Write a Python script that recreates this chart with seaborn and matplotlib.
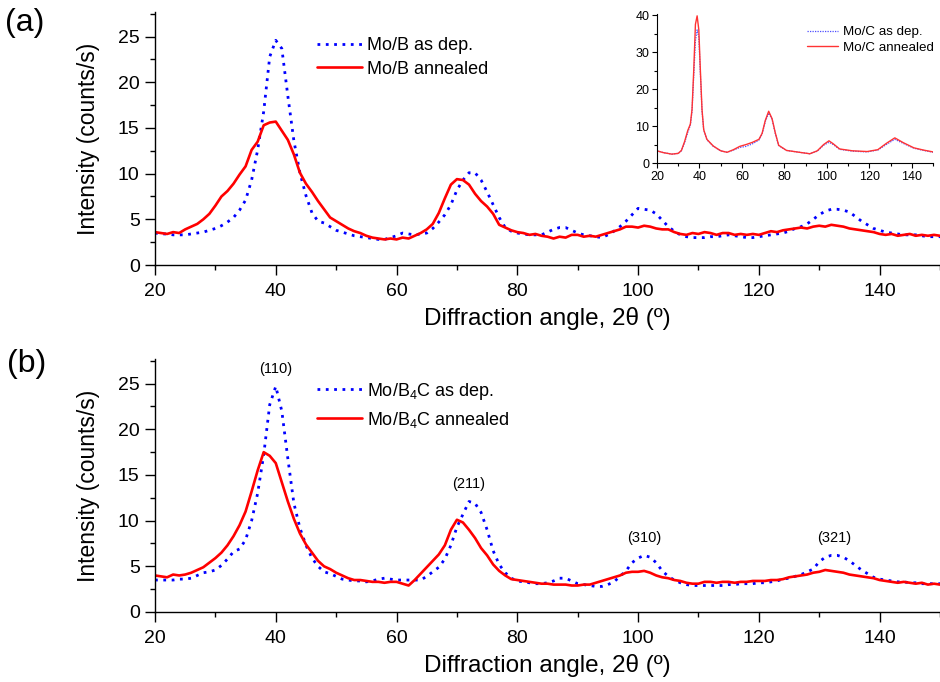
import matplotlib
matplotlib.use("Agg")
import matplotlib.pyplot as plt
from matplotlib.ticker import MultipleLocator
import numpy as np
import pandas as pd
import seaborn as sns

# ---------------------------------------------------------------- data
angle = list(range(20, 151))  # 2-theta, degrees

# (a) Mo/B multilayer
mob_dep = [
    3.5, 3.4, 3.4, 3.3, 3.3, 3.3, 3.4, 3.5, 3.6, 3.8,
    4.0, 4.3, 4.7, 5.2, 6.0, 7.1, 9.3, 12.6, 16.8, 22.8,
    24.6, 23.7, 18.5, 13.6, 10.1, 7.6, 5.7, 4.8, 4.6, 4.2,
    3.8, 3.6, 3.4, 3.2, 3.1, 3.0, 2.9, 2.8, 2.8, 3.0,
    3.2, 3.5, 3.4, 3.3, 3.4, 3.5, 4.0, 4.7, 5.5, 6.6,
    8.2, 9.3, 10.1, 10.1, 9.3, 8.0, 6.6, 5.2, 4.1, 3.7,
    3.5, 3.4, 3.3, 3.3, 3.3, 3.6, 3.9, 4.1, 4.1, 3.8,
    3.5, 3.3, 3.2, 3.1, 3.0, 3.3, 3.7, 4.2, 4.8, 5.5,
    6.2, 6.1, 6.0, 5.6, 4.9, 4.2, 3.7, 3.3, 3.1, 3.0,
    3.0, 3.0, 3.1, 3.1, 3.2, 3.3, 3.2, 3.1, 3.0, 3.0,
    3.1, 3.2, 3.3, 3.4, 3.5, 3.7, 4.0, 4.2, 4.5, 5.0,
    5.5, 5.9, 6.1, 6.1, 6.0, 5.8, 5.3, 4.8, 4.4, 4.0,
    3.8, 3.6, 3.5, 3.4, 3.3, 3.3, 3.3, 3.2, 3.1, 3.1, 3.1,
]
mob_ann = [
    3.6, 3.5, 3.4, 3.6, 3.5, 3.9, 4.2, 4.5, 5.0, 5.6,
    6.5, 7.5, 8.1, 8.9, 9.9, 10.8, 12.6, 13.5, 15.3, 15.6,
    15.7, 14.7, 13.7, 12.1, 10.1, 8.9, 8.0, 7.0, 6.1, 5.2,
    4.8, 4.4, 4.0, 3.7, 3.5, 3.2, 3.0, 2.9, 2.8, 2.9,
    2.8, 3.0, 2.9, 3.2, 3.5, 3.9, 4.5, 5.7, 7.3, 8.8,
    9.4, 9.3, 8.8, 7.8, 7.0, 6.4, 5.6, 4.4, 4.1, 3.8,
    3.6, 3.5, 3.3, 3.4, 3.2, 3.1, 2.9, 3.1, 3.0, 3.3,
    3.3, 3.1, 3.2, 3.1, 3.3, 3.5, 3.7, 3.9, 4.2, 4.2,
    4.1, 4.3, 4.2, 4.0, 3.9, 3.9, 3.6, 3.4, 3.3, 3.5,
    3.4, 3.6, 3.5, 3.3, 3.5, 3.5, 3.3, 3.4, 3.3, 3.4,
    3.3, 3.5, 3.7, 3.6, 3.8, 3.9, 4.0, 4.1, 4.0, 4.2,
    4.3, 4.2, 4.4, 4.3, 4.2, 4.0, 3.9, 3.8, 3.7, 3.6,
    3.4, 3.3, 3.4, 3.2, 3.3, 3.4, 3.2, 3.3, 3.2, 3.3, 3.2,
]

# (b) Mo/B4C multilayer
mob4c_dep = [
    3.5, 3.5, 3.5, 3.5, 3.6, 3.6, 3.7, 4.0, 4.3, 4.4,
    4.6, 5.1, 5.8, 6.6, 6.9, 7.9, 10.0, 13.0, 17.2, 22.7,
    24.7, 22.0, 16.8, 11.9, 9.2, 7.3, 5.9, 5.0, 4.4, 4.2,
    3.9, 3.6, 3.5, 3.4, 3.4, 3.3, 3.4, 3.6, 3.7, 3.6,
    3.5, 3.5, 3.5, 3.5, 3.5, 3.9, 4.4, 4.9, 5.8, 7.3,
    9.3, 10.7, 12.1, 11.9, 10.9, 9.0, 6.7, 5.2, 4.3, 3.7,
    3.4, 3.3, 3.2, 3.1, 3.1, 3.2, 3.4, 3.7, 3.7, 3.4,
    3.1, 3.0, 2.9, 2.8, 2.8, 3.0, 3.3, 3.9, 4.5, 5.4,
    5.9, 6.2, 6.0, 5.4, 4.5, 3.9, 3.5, 3.2, 3.0, 2.9,
    2.9, 2.9, 2.9, 2.9, 2.9, 3.0, 3.0, 3.1, 3.1, 3.1,
    3.2, 3.2, 3.3, 3.4, 3.6, 3.7, 3.9, 4.1, 4.4, 4.7,
    5.5, 6.0, 6.2, 6.2, 6.0, 5.6, 5.1, 4.6, 4.2, 3.8,
    3.6, 3.5, 3.4, 3.3, 3.3, 3.2, 3.2, 3.1, 3.1, 3.1, 3.1,
]
mob4c_ann = [
    4.0, 3.9, 3.8, 4.1, 4.0, 4.1, 4.3, 4.6, 4.9, 5.4,
    5.9, 6.5, 7.3, 8.3, 9.5, 11.0, 13.2, 15.5, 17.5, 17.1,
    16.3, 14.2, 12.1, 10.2, 8.6, 7.4, 6.5, 5.6, 5.0, 4.7,
    4.3, 4.0, 3.7, 3.5, 3.5, 3.4, 3.3, 3.3, 3.2, 3.3,
    3.3, 3.1, 2.9, 3.5, 4.2, 4.9, 5.6, 6.3, 7.3, 9.0,
    10.1, 9.8, 9.0, 8.1, 7.0, 6.2, 5.2, 4.5, 4.0, 3.6,
    3.5, 3.4, 3.3, 3.2, 3.1, 3.1, 3.0, 3.0, 3.0, 2.9,
    2.9, 3.0, 3.0, 3.2, 3.4, 3.6, 3.8, 4.0, 4.3, 4.4,
    4.4, 4.5, 4.3, 4.0, 3.8, 3.7, 3.5, 3.4, 3.2, 3.1,
    3.1, 3.3, 3.3, 3.2, 3.3, 3.3, 3.2, 3.3, 3.3, 3.4,
    3.4, 3.4, 3.5, 3.5, 3.6, 3.8, 3.9, 4.0, 4.1, 4.3,
    4.4, 4.6, 4.5, 4.4, 4.3, 4.1, 4.0, 3.9, 3.8, 3.7,
    3.5, 3.4, 3.3, 3.2, 3.3, 3.2, 3.1, 3.2, 3.0, 3.1, 3.0,
]

# inset: Mo/C multilayer
inset_angle = [
    20, 23, 27, 30, 31.5, 33, 34.5, 35.7, 36.5, 37.3, 38.1, 38.9, 39.7,
    40.4, 41.2, 42, 43.5, 46.5, 50, 53, 56, 59, 62, 65, 68, 69.5, 71,
    72.6, 74.2, 75.7, 77.3, 81, 87, 92, 95.5, 98.5, 101, 103, 106, 112,
    119, 124, 128, 132, 136, 141, 145.5, 150,
]
moc_dep = [
    3.3, 2.8, 2.4, 2.6, 3.3, 5.5, 8.3, 10.2, 14.0, 23.5, 33.0, 36.0, 34.0,
    24.5, 14.0, 9.0, 6.3, 4.5, 3.3, 2.9, 3.5, 4.2, 4.5, 5.2, 6.2, 7.8, 11.2,
    13.5, 11.8, 8.0, 4.7, 3.4, 2.9, 2.5, 3.2, 4.8, 5.6, 5.0, 3.7, 3.2,
    3.0, 3.5, 5.0, 6.4, 5.3, 4.0, 3.4, 2.9,
]
moc_ann = [
    3.3, 2.8, 2.4, 2.6, 3.4, 5.8, 8.8, 10.5, 14.5, 25.0, 37.5, 39.8, 36.0,
    25.5, 14.5, 9.0, 6.4, 4.6, 3.3, 2.9, 3.6, 4.5, 5.0, 5.6, 6.4, 8.0, 11.5,
    14.0, 12.0, 8.2, 4.8, 3.4, 2.9, 2.5, 3.3, 5.0, 6.0, 5.2, 3.8, 3.3,
    3.1, 3.6, 5.3, 6.8, 5.5, 4.1, 3.5, 3.0,
]

# Mo bcc reflections marked in panel (b)
reflections = ["(110)", "(211)", "(310)", "(321)"]
reflection_angle = [40, 72, 101, 132.5]

# ---------------------------------------------------------------- style
sns.set_style("ticks")
plt.rcParams["font.family"] = ["Liberation Sans", "DejaVu Sans"]
plt.rcParams["mathtext.default"] = "regular"
for key in ("text.color", "axes.labelcolor", "xtick.color", "ytick.color",
            "axes.edgecolor"):
    plt.rcParams[key] = "black"

BLUE = "#0000ff"
RED = "#ff0000"
DOTS = (0, (1, 2))

fig = plt.figure(figsize=(9.4, 6.82), dpi=100)
W, H = 940.0, 682.0
ax_a = fig.add_axes([155 / W, 1 - 265 / H, 785 / W, 253 / H])
ax_b = fig.add_axes([155 / W, 1 - 612 / H, 785 / W, 253 / H])
ax_in = fig.add_axes([657 / W, 1 - 163 / H, 276 / W, 149 / H])


def style_main(ax):
    ax.set_xlim(20, 150)
    ax.set_ylim(0, 27.7)
    ax.xaxis.set_major_locator(MultipleLocator(20))
    ax.xaxis.set_minor_locator(MultipleLocator(10))
    ax.yaxis.set_major_locator(MultipleLocator(5))
    ax.yaxis.set_minor_locator(MultipleLocator(2.5))
    ax.tick_params(which="major", direction="out", length=7, width=1.0,
                   labelsize=14, color="black")
    ax.tick_params(axis="x", which="major", pad=6)
    ax.tick_params(axis="y", which="major", pad=4)
    ax.tick_params(which="minor", direction="out", length=3.5, width=1.0,
                   color="black")
    for side in ("left", "bottom"):
        ax.spines[side].set_linewidth(1.0)
        ax.spines[side].set_color("black")
    sns.despine(ax=ax)
    ax.set_xlabel("Diffraction angle, 2\u03b8 (\u00ba)", fontsize=17.5, labelpad=5)
    ax.set_ylabel("Intensity (counts/s)", fontsize=16.5, labelpad=13)
    ax.set_facecolor("none")


def draw_pair(ax, x, dep, ann, dep_label, ann_label):
    sns.lineplot(x=x, y=dep, ax=ax, color=BLUE, linewidth=2.0,
                 linestyle=DOTS, errorbar=None, label=dep_label)
    sns.lineplot(x=x, y=ann, ax=ax, color=RED, linewidth=1.9,
                 errorbar=None, label=ann_label)


# ---------------------------------------------------------------- panel (a)
draw_pair(ax_a, angle, mob_dep, mob_ann, "Mo/B as dep.", "Mo/B annealed")
style_main(ax_a)
ax_a.legend(loc="upper left", bbox_to_anchor=(0.207, 0.90), frameon=False,
            fontsize=13, handlelength=2.45, handletextpad=0.3,
            labelspacing=0.35, borderpad=0, borderaxespad=0)

# ---------------------------------------------------------------- panel (b)
draw_pair(ax_b, angle, mob4c_dep, mob4c_ann,
          "Mo/B$_4$C as dep.", "Mo/B$_4$C annealed")
style_main(ax_b)
ax_b.legend(loc="upper left", bbox_to_anchor=(0.207, 0.915), frameon=False,
            fontsize=13, handlelength=2.45, handletextpad=0.3,
            labelspacing=0.45, borderpad=0, borderaxespad=0)

dep_series = pd.Series(mob4c_dep, index=angle)
for name, pos in zip(reflections, reflection_angle):
    top = dep_series.loc[pos - 3:pos + 3].max()
    ax_b.text(pos, top + 1.9, name, ha="center", va="center", fontsize=10.5)

# ---------------------------------------------------------------- inset
sns.lineplot(x=inset_angle, y=moc_dep, ax=ax_in, color="#4d4dff",
             linewidth=0.9, linestyle=(0, (1, 1)), errorbar=None,
             label="Mo/C as dep.")
sns.lineplot(x=inset_angle, y=moc_ann, ax=ax_in, color="#ff3333",
             linewidth=1.0, errorbar=None, label="Mo/C annealed")
ax_in.set_xlim(20, 150)
ax_in.set_ylim(0, 40.3)
ax_in.xaxis.set_major_locator(MultipleLocator(20))
ax_in.xaxis.set_minor_locator(MultipleLocator(10))
ax_in.yaxis.set_major_locator(MultipleLocator(10))
ax_in.yaxis.set_minor_locator(MultipleLocator(5))
ax_in.tick_params(which="major", direction="out", length=3.5, width=0.8,
                  labelsize=9, pad=2, color="black")
ax_in.tick_params(which="minor", direction="out", length=2, width=0.8,
                  color="black")
for side in ("left", "bottom"):
    ax_in.spines[side].set_linewidth(0.8)
sns.despine(ax=ax_in)
ax_in.set_xlabel("")
ax_in.set_ylabel("")
ax_in.set_facecolor("white")
ax_in.legend(loc="upper left", bbox_to_anchor=(0.545, 0.92), frameon=False,
             fontsize=9.6, handlelength=2.3, handletextpad=0.4,
             labelspacing=0.25, borderpad=0, borderaxespad=0)

# ---------------------------------------------------------------- panel tags
fig.text(5 / W, 1 - 23 / H, "(a)", fontsize=23, ha="left", va="center")
fig.text(7 / W, 1 - 364 / H, "(b)", fontsize=23, ha="left", va="center")

fig.savefig("out.png", dpi=100)
